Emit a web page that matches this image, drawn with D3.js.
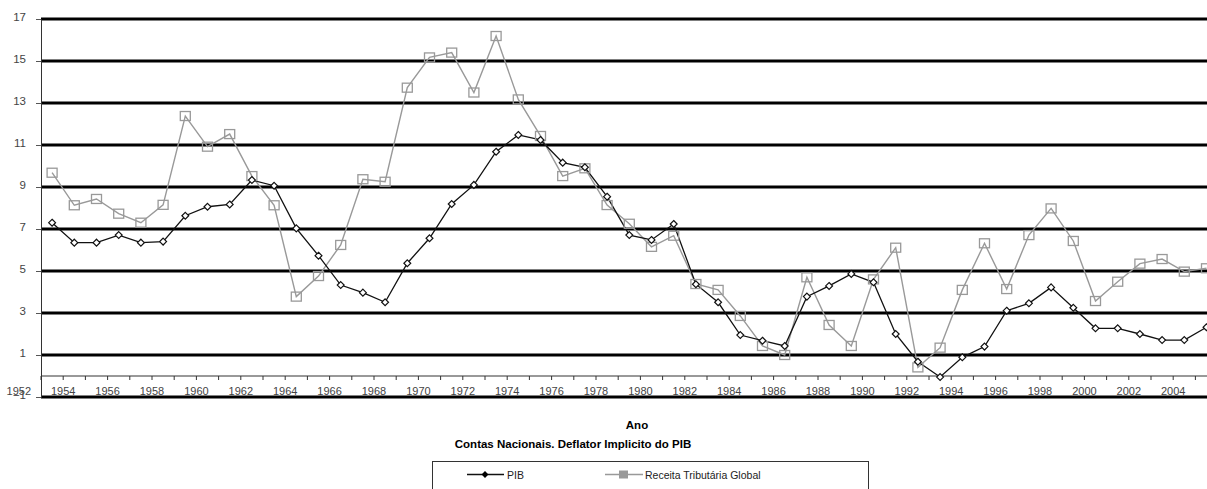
<!DOCTYPE html>
<html>
<head>
<meta charset="utf-8">
<script src="https://cdn.jsdelivr.net/npm/d3@7"></script>
<style>
  html, body { margin: 0; padding: 0; background: #fff; }
  svg { display: block; font-family: "Liberation Sans", Arial, sans-serif; }
</style>
</head>
<body>
<svg id="chart" width="1207" height="489"></svg>
<script>
// ---- data ----
const years = d3.range(1953, 2006);
const pib = [7.3, 6.35, 6.35, 6.71, 6.35, 6.4, 7.63, 8.06, 8.17, 9.33, 9.06, 7.03, 5.73, 4.33, 3.97, 3.51,
  5.37, 6.56, 8.19, 9.1, 10.68, 11.48, 11.24, 10.16, 9.94, 8.54, 6.71, 6.48, 7.24, 4.37, 3.51, 1.95,
  1.68, 1.43, 3.78, 4.29, 4.86, 4.46, 2.0, 0.68, -0.05, 0.89, 1.4, 3.11, 3.46, 4.22, 3.25, 2.27,
  2.27, 2.0, 1.71, 1.71, 2.32];
const receita = [9.68, 8.13, 8.43, 7.73, 7.3, 8.15, 12.38, 10.92, 11.52, 9.52, 8.13, 3.78, 4.76, 6.24, 9.37, 9.25,
  13.73, 15.17, 15.4, 13.5, 16.19, 13.17, 11.43, 9.52, 9.89, 8.14, 7.25, 6.15, 6.68, 4.38, 4.1, 2.86,
  1.43, 1.0, 4.7, 2.43, 1.43, 4.6, 6.11, 0.41, 1.35, 4.1, 6.32, 4.14, 6.71, 7.98, 6.43, 3.57,
  4.49, 5.35, 5.57, 4.97, 5.13];
const yTicks = [-1, 1, 3, 5, 7, 9, 11, 13, 15, 17];
const xLabelYears = d3.range(1952, 2005, 2);
const seriesNames = ["PIB", "Receita Tributária Global"];
const xTitle = "Ano";
const subTitle = "Contas Nacionais. Deflator Implicito do PIB";

// ---- layout ----
const svg = d3.select("#chart");
const left = 41, step = 22.2;
const x = d3.scaleBand().domain(years).range([left, left + step * years.length]).paddingInner(0).paddingOuter(0);
const y = d3.scaleLinear().domain([-1, 17]).range([397, 19]);
const xEdge = yr => left + (yr - years[0]) * x.step();   // left boundary of a year's band
const W = 1207;

// gridlines
svg.append("g").selectAll("line").data(yTicks).join("line")
  .attr("x1", left).attr("x2", W + 10)
  .attr("y1", d => y(d)).attr("y2", d => y(d))
  .attr("stroke", "#000").attr("stroke-width", 3);

// y axis
const yAxis = d3.axisLeft(y).tickValues(yTicks).tickSize(5).tickPadding(10).tickFormat(d3.format("d"));
const gy = svg.append("g").attr("transform", `translate(${left},0)`).call(yAxis);
gy.select(".domain").attr("stroke", "#333").attr("stroke-width", 1);
gy.selectAll(".tick line").attr("stroke", "#555");
gy.selectAll(".tick text").attr("font-size", 11.5).attr("fill", "#444").attr("dy", "0.1em")
  .attr("font-family", "Liberation Sans, Arial, sans-serif");

// x axis at value 0
const y0 = y(0);
svg.append("line").attr("x1", left).attr("x2", W + 10).attr("y1", y0).attr("y2", y0)
  .attr("stroke", "#333").attr("stroke-width", 1);
svg.append("g").selectAll("line").data(years).join("line")
  .attr("x1", d => xEdge(d)).attr("x2", d => xEdge(d))
  .attr("y1", y0).attr("y2", y0 + 4).attr("stroke", "#333");
svg.append("g").selectAll("text").data(xLabelYears).join("text")
  .attr("x", d => xEdge(d)).attr("y", 395)
  .attr("text-anchor", "middle").attr("font-size", 11).attr("fill", "#444")
  .text(d => d);

// lines
const line = d3.line().x((d, i) => x(years[i]) + x.bandwidth() / 2).y(d => y(d));
svg.append("path").datum(receita).attr("d", line)
  .attr("fill", "none").attr("stroke", "#999").attr("stroke-width", 1.4);
svg.append("path").datum(pib).attr("d", line)
  .attr("fill", "none").attr("stroke", "#111").attr("stroke-width", 1.3);

// markers
svg.append("g").selectAll("rect").data(receita).join("rect")
  .attr("x", (d, i) => x(years[i]) + x.bandwidth() / 2 - 5)
  .attr("y", d => y(d) - 4.5)
  .attr("width", 10).attr("height", 9)
  .attr("fill", "none").attr("stroke", "#999").attr("stroke-width", 1.3);
const diamond = d3.symbol().type(d3.symbolDiamond2).size(30);
svg.append("g").selectAll("path").data(pib).join("path")
  .attr("d", diamond)
  .attr("transform", (d, i) => `translate(${x(years[i]) + x.bandwidth() / 2},${y(d)})`)
  .attr("fill", "#fff").attr("stroke", "#111").attr("stroke-width", 1.2);

// titles
svg.append("text").attr("x", 637).attr("y", 429).attr("text-anchor", "middle")
  .attr("font-size", 11.5).attr("font-weight", "bold").text(xTitle);
svg.append("text").attr("x", 573).attr("y", 448).attr("text-anchor", "middle")
  .attr("font-size", 11.5).attr("font-weight", "bold").text(subTitle);

// legend
svg.append("rect").attr("x", 432.5).attr("y", 461.5).attr("width", 436).attr("height", 40)
  .attr("fill", "#fff").attr("stroke", "#333").attr("stroke-width", 1);
const ly = 474.5;
svg.append("line").attr("x1", 467).attr("x2", 504).attr("y1", ly).attr("y2", ly)
  .attr("stroke", "#111").attr("stroke-width", 1.5);
svg.append("path").attr("d", d3.symbol().type(d3.symbolDiamond2).size(30))
  .attr("transform", `translate(485,${ly})`).attr("fill", "#000");
svg.append("text").attr("x", 507).attr("y", ly + 4).attr("font-size", 10.5).attr("fill", "#222").text(seriesNames[0]);
svg.append("line").attr("x1", 605).attr("x2", 643).attr("y1", ly).attr("y2", ly)
  .attr("stroke", "#999").attr("stroke-width", 1.5);
svg.append("rect").attr("x", 619).attr("y", ly - 4).attr("width", 9).attr("height", 8).attr("fill", "#999");
svg.append("text").attr("x", 645).attr("y", ly + 4).attr("font-size", 10.5).attr("fill", "#222").text(seriesNames[1]);
</script>
</body>
</html>
